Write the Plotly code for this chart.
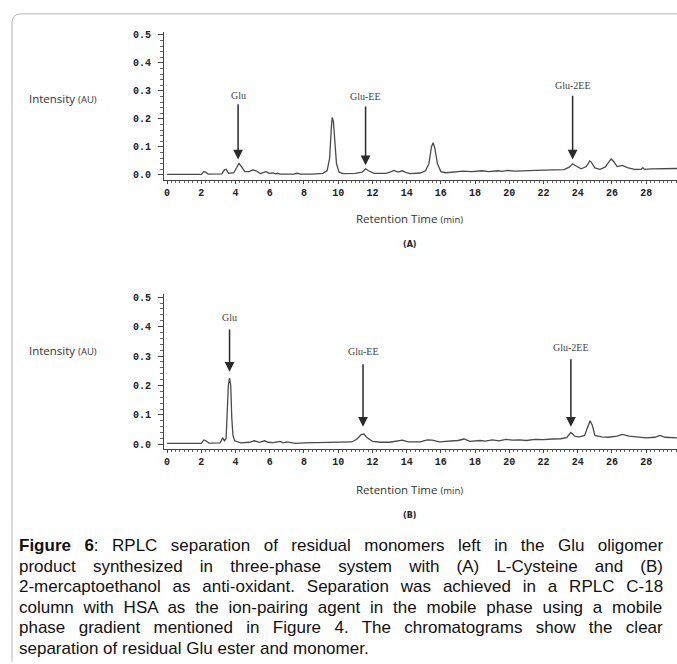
import plotly.graph_objects as go

# ---------------- data ----------------
time_a = [0, 2.0, 2.15, 2.25, 2.4, 3.2, 3.35, 3.45, 3.6, 3.9,
          4.1, 4.2, 4.3, 4.55, 4.8, 5.0, 5.2, 5.45, 5.7, 5.8,
          5.95, 6.1, 6.2, 6.35, 6.45, 6.6, 7.4, 7.6, 7.8, 8.5,
          9.1, 9.35, 9.5, 9.6, 9.65, 9.72, 9.8, 9.9, 10.05, 10.3,
          11.0, 11.4, 11.6, 11.8, 12.1, 12.8, 13.1, 13.25, 13.5, 13.75,
          13.9, 14.2, 14.8, 15.1, 15.3, 15.45, 15.55, 15.65, 15.8, 16.0,
          16.3, 17.0, 17.3, 17.8, 18.4, 18.8, 19.3, 19.6, 19.9, 20.3,
          20.9, 21.4, 22.0, 22.6, 23.2, 23.5, 23.7, 23.9, 24.2, 24.5,
          24.7, 24.8, 25.0, 25.3, 25.6, 25.8, 25.95, 26.1, 26.3, 26.6,
          26.9, 27.3, 27.7, 27.8, 27.9, 28.3, 29.0, 29.8]
intensity_a = [0.002, 0.002, 0.012, 0.010, 0.003, 0.004, 0.018, 0.020, 0.006, 0.008,
               0.030, 0.041, 0.033, 0.012, 0.012, 0.018, 0.015, 0.005, 0.010, 0.012,
               0.006, 0.008, 0.007, 0.004, 0.006, 0.003, 0.003, 0.006, 0.003, 0.003,
               0.006, 0.015, 0.060, 0.170, 0.205, 0.190, 0.120, 0.040, 0.010, 0.005,
               0.006, 0.010, 0.022, 0.014, 0.006, 0.006, 0.012, 0.016, 0.010, 0.015,
               0.010, 0.005, 0.007, 0.015, 0.040, 0.100, 0.115, 0.095, 0.040, 0.012,
               0.008, 0.012, 0.014, 0.012, 0.015, 0.012, 0.015, 0.013, 0.016, 0.014,
               0.016, 0.015, 0.017, 0.018, 0.019, 0.028, 0.040, 0.032, 0.022, 0.030,
               0.050, 0.045, 0.025, 0.020, 0.028, 0.045, 0.057, 0.048, 0.030, 0.034,
               0.026, 0.020, 0.020, 0.026, 0.020, 0.022, 0.023, 0.023]

time_b = [0, 2.0, 2.15, 2.25, 2.45, 3.1, 3.25, 3.35, 3.45, 3.52,
          3.58, 3.65, 3.72, 3.78, 3.85, 3.95, 4.3, 4.8, 5.1, 5.4,
          5.7, 5.9, 6.2, 6.6, 6.8, 7.0, 7.5, 8.0, 9.0, 10.0,
          10.8, 11.1, 11.35, 11.5, 11.7, 12.0, 12.5, 13.0, 13.4, 13.75,
          14.1, 14.8, 15.2, 15.5, 15.9, 16.6, 17.0, 17.35, 17.7, 18.3,
          18.6, 19.0, 19.4, 19.8, 20.2, 20.6, 21.0, 21.5, 22.0, 22.5,
          23.0, 23.35, 23.6, 23.85, 24.1, 24.4, 24.6, 24.72, 24.85, 25.0,
          25.4, 25.8, 26.3, 26.6, 27.0, 27.5, 28.0, 28.5, 28.8, 29.1,
          29.5, 29.8]
intensity_b = [0.003, 0.003, 0.015, 0.013, 0.004, 0.005, 0.022, 0.012, 0.020, 0.100,
               0.200, 0.225, 0.200, 0.090, 0.030, 0.012, 0.005, 0.007, 0.012, 0.007,
               0.012, 0.007, 0.006, 0.010, 0.005, 0.008, 0.003, 0.005, 0.006, 0.008,
               0.008, 0.018, 0.033, 0.035, 0.022, 0.010, 0.007, 0.007, 0.010, 0.014,
               0.008, 0.008, 0.015, 0.014, 0.008, 0.011, 0.013, 0.018, 0.010, 0.013,
               0.011, 0.015, 0.012, 0.017, 0.014, 0.015, 0.013, 0.017, 0.016, 0.018,
               0.019, 0.023, 0.040, 0.027, 0.025, 0.030, 0.060, 0.080, 0.065, 0.030,
               0.025, 0.024, 0.028, 0.034, 0.028, 0.025, 0.022, 0.024, 0.030, 0.024,
               0.022, 0.022]

assert len(time_a) == len(intensity_a), (len(time_a), len(intensity_a))
assert len(time_b) == len(intensity_b), (len(time_b), len(intensity_b))

peak_names = ["Glu", "Glu-EE", "Glu-2EE"]
# (A) label / arrow positions in data units
peak_time_a = [4.15, 11.6, 23.7]
label_y_a = [0.285, 0.28, 0.318]
arrow_start_a = [0.258, 0.25, 0.288]
arrow_tip_a = [0.055, 0.035, 0.055]
# (B)
peak_time_b = [3.65, 11.45, 23.6]
label_y_b = [0.43, 0.314, 0.328]
arrow_start_b = [0.395, 0.277, 0.294]
arrow_tip_b = [0.247, 0.06, 0.06]

x_ticks = list(range(0, 30, 2))
y_ticks = [0.0, 0.1, 0.2, 0.3, 0.4, 0.5]

caption_lines = [
    "<b>Figure 6</b>: RPLC separation of residual monomers left in the Glu oligomer",
    "product synthesized in three-phase system with (A) L-Cysteine and (B)",
    "2-mercaptoethanol as anti-oxidant. Separation was achieved in a RPLC C-18",
    "column with HSA as the ion-pairing agent in the mobile phase using a mobile",
    "phase gradient mentioned in Figure 4. The chromatograms show the clear",
    "separation of residual Glu ester and monomer.",
]

# ---------------- layout helpers ----------------
W, H = 677, 664


def px(x):
    return x / W


def py(y):
    return 1 - y / H


ARIAL = {' ': 278, '.': 278, ',': 278, ':': 278, '-': 333, '(': 333, ')': 333}
for c in '0123456789':
    ARIAL[c] = 556
for c, w in zip('ABCDEFGHIJKLMNOPQRSTUVWXYZ',
                [667, 667, 722, 722, 667, 611, 778, 722, 278, 500, 667, 556, 833,
                 722, 778, 667, 778, 722, 667, 611, 722, 667, 944, 667, 667, 611]):
    ARIAL[c] = w
for c, w in zip('abcdefghijklmnopqrstuvwxyz',
                [556, 556, 500, 556, 556, 278, 556, 556, 222, 222, 500, 222, 833,
                 556, 556, 556, 556, 333, 500, 278, 556, 500, 722, 500, 500, 500]):
    ARIAL[c] = w
ARIAL_B = {'F': 611, 'i': 278, 'g': 611, 'u': 611, 'r': 389, 'e': 556, ' ': 278, '6': 556}


def text_width(s, size):
    tot = 0
    bold = False
    i = 0
    while i < len(s):
        if s.startswith('<b>', i):
            bold = True
            i += 3
            continue
        if s.startswith('</b>', i):
            bold = False
            i += 4
            continue
        ch = s[i]
        tot += (ARIAL_B.get(ch, 600) if bold else ARIAL.get(ch, 556))
        i += 1
    return tot * size / 1000.0


fig = go.Figure()

line_style = dict(color="#4a4a4a", width=1.3)
fig.add_trace(go.Scatter(x=time_a, y=intensity_a, mode="lines", line=line_style,
                         xaxis="x", yaxis="y", hoverinfo="skip"))
fig.add_trace(go.Scatter(x=time_b, y=intensity_b, mode="lines", line=line_style,
                         xaxis="x2", yaxis="y2", hoverinfo="skip"))

tickfont = dict(family="Courier New, Liberation Mono, monospace", size=10,
                color="#222", weight="bold")

xcommon = dict(range=[-0.18, 29.8], domain=[px(164), 1.0], tickvals=x_ticks,
               ticks="outside", ticklen=3, tickwidth=1, tickcolor="#444",
               showline=True, linecolor="#444", linewidth=1.2,
               showgrid=False, zeroline=False, tickfont=tickfont,
               minor=dict(dtick=0.25, tick0=0, ticks="outside", ticklen=2,
                          tickcolor="#666", tickwidth=1))
ycommon = dict(tickvals=y_ticks, tickformat=".1f",
               ticks="outside", ticklen=5, tickwidth=1, tickcolor="#444",
               showline=True, linecolor="#444", linewidth=1.2,
               showgrid=False, zeroline=False, tickfont=tickfont,
               ticklabelstandoff=5,
               minor=dict(dtick=0.02, tick0=0, ticks="outside", ticklen=3,
                          tickcolor="#666", tickwidth=1))

fig.update_layout(
    width=W, height=H, margin=dict(l=0, r=0, t=0, b=0),
    paper_bgcolor="white", plot_bgcolor="white", showlegend=False,
    xaxis=dict(anchor="y", **xcommon),
    xaxis2=dict(anchor="y2", **xcommon),
    yaxis=dict(anchor="x", domain=[py(179), py(30)], range=[-0.0177, 0.5106], **ycommon),
    yaxis2=dict(anchor="x2", domain=[py(450), py(294)], range=[-0.0169, 0.5101], **ycommon),
)

ann = []
label_font = dict(family="Liberation Serif, DejaVu Serif, serif", size=10, color="#444")
for xa, ya, names, lx, ly, a0, a1 in [
        ("x", "y", peak_names, peak_time_a, label_y_a, arrow_start_a, arrow_tip_a),
        ("x2", "y2", peak_names, peak_time_b, label_y_b, arrow_start_b, arrow_tip_b)]:
    for n, xv, yl, ys, yt in zip(names, lx, ly, a0, a1):
        ann.append(dict(x=xv, y=yl, xref=xa, yref=ya, text=n, showarrow=False,
                        font=label_font, yanchor="middle"))
        ann.append(dict(x=xv, y=yt, xref=xa, yref=ya, ax=xv, ay=ys, axref=xa, ayref=ya,
                        text="", showarrow=True, arrowhead=2, arrowsize=1.3,
                        arrowwidth=1.5, arrowcolor="#2a2a2a"))

side_font = dict(family="Open Sans, DejaVu Sans, sans-serif", size=11.5, color="#333")
for yy in (97, 351):
    ann.append(dict(x=px(27), y=py(yy), xref="paper", yref="paper", xanchor="left",
                    yanchor="middle", showarrow=False, font=side_font,
                    text="Intensity <span style='font-size:9.5px'>(AU)</span>"))
for yy in (218, 490):
    ann.append(dict(x=px(410), y=py(yy), xref="paper", yref="paper", xanchor="center",
                    yanchor="middle", showarrow=False, font=side_font,
                    text="Retention Time <span style='font-size:9.5px'>(min)</span>"))
for yy, t in ((244, "(A)"), (517, "(B)")):
    ann.append(dict(x=px(410), y=py(yy), xref="paper", yref="paper", xanchor="center",
                    yanchor="middle", showarrow=False,
                    font=dict(family="DejaVu Sans, sans-serif", size=8, color="#222",
                              weight="bold"), text=t))

cap_size = 17
cap_left, cap_right = 17, 661
for i, line in enumerate(caption_lines):
    nsp = line.replace('<b>', '').replace('</b>', '').count(' ')
    txt = line
    if i < len(caption_lines) - 1:
        natural = text_width(line, cap_size)
        ws = (cap_right - cap_left - natural) / max(nsp, 1)
        txt = "<span style='word-spacing:%.2fpx'>%s</span>" % (ws, line)
    ann.append(dict(x=px(cap_left), y=py(547 + i * 20.6), xref="paper", yref="paper",
                    xanchor="left", yanchor="middle", showarrow=False,
                    font=dict(family="Liberation Sans, Arial, sans-serif", size=cap_size,
                              color="#111"), text=txt))

fig.update_layout(annotations=ann)

# rounded frame around the figure
r = 9
path = (f"M {px(12)} {py(664)} L {px(12)} {py(12 + r)} "
        f"Q {px(12)} {py(12)} {px(12 + r)} {py(12)} L {px(677)} {py(12)}")
fig.add_shape(type="path", path=path, xref="paper", yref="paper",
              line=dict(color="#b5b5b5", width=1))

fig.write_html("out.html", config={"displayModeBar": False},
               post_script="document.body.style.margin='0px';"
                           "document.body.style.overflow='hidden';")
